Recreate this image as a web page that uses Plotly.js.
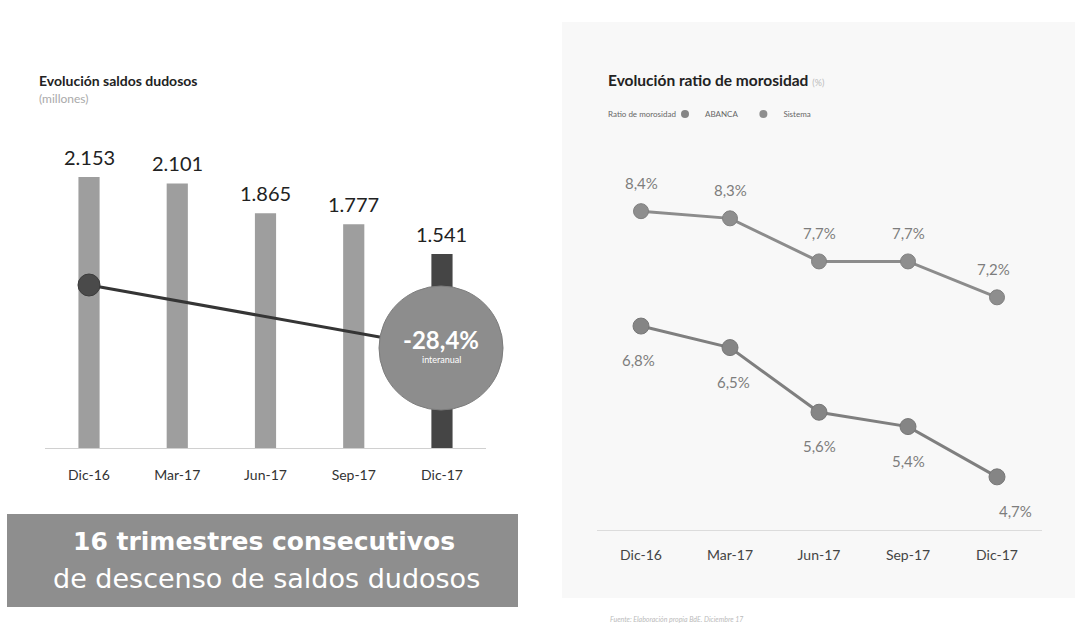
<!DOCTYPE html>
<html>
<head>
<meta charset="utf-8">
<script src="https://cdn.plot.ly/plotly-3.0.1.min.js"></script>
<style>
  html, body { margin: 0; padding: 0; background: #ffffff; }
  #chart { width: 1075px; height: 634px; }
</style>
</head>
<body>
<div id="chart"></div>
<script>
// ---- Data ----
const periods = ['Dic-16', 'Mar-17', 'Jun-17', 'Sep-17', 'Dic-17'];
const saldosDudosos = [2153, 2101, 1865, 1777, 1541];   // millones
const variacionInteranual = '-28,4%';
const ratioSistema = [8.4, 8.3, 7.7, 7.7, 7.2];         // %
const ratioAbanca = [6.8, 6.5, 5.6, 5.4, 4.7];          // %

// ---- Helpers ----
const W = 1075, H = 634;
const PX = p => p / W;
const PY = p => 1 - p / H;
const FONT = 'Lato, "Open Sans", "DejaVu Sans", sans-serif';
const BOXFONT = '"DejaVu Sans", "Open Sans", sans-serif';
const fmtThousands = v => String(v).replace(/\B(?=(\d{3})+(?!\d))/g, '.');
const fmtPct = v => v.toFixed(1).replace('.', ',') + '%';

// ---- Traces ----
const barColors = saldosDudosos.map((v, i) => i === saldosDudosos.length - 1 ? '#454545' : '#9e9e9e');
const bars = {
  type: 'bar', x: periods, y: saldosDudosos, xaxis: 'x', yaxis: 'y',
  marker: { color: barColors, line: { width: 0 } },
  showlegend: false, hoverinfo: 'x+y'
};

const sistema = {
  type: 'scatter', mode: 'lines+markers', name: 'Sistema',
  x: periods, y: ratioSistema, xaxis: 'x2', yaxis: 'y2',
  line: { color: '#8c8c8c', width: 3 },
  marker: { color: '#8e8e8e', size: 15, line: { color: '#808080', width: 1 } },
  showlegend: false
};
const abanca = {
  type: 'scatter', mode: 'lines+markers', name: 'ABANCA',
  x: periods, y: ratioAbanca, xaxis: 'x2', yaxis: 'y2',
  line: { color: '#7f7f7f', width: 3 },
  marker: { color: '#858585', size: 16, line: { color: '#777777', width: 1 } },
  showlegend: false
};
// legend entries (dots only)
const legAbanca = { type: 'scatter', mode: 'markers', name: 'ABANCA', x: [null], y: [null],
  xaxis: 'x2', yaxis: 'y2', marker: { color: '#858585', size: 8 }, showlegend: true, hoverinfo: 'skip' };
const legSistema = { type: 'scatter', mode: 'markers', name: 'Sistema', x: [null], y: [null],
  xaxis: 'x2', yaxis: 'y2', marker: { color: '#8e8e8e', size: 8 }, showlegend: true, hoverinfo: 'skip' };

// ---- Annotations ----
const annotations = [];
// Left value labels
saldosDudosos.forEach((v, i) => {
  annotations.push({
    xref: 'x', yref: 'y', x: periods[i], y: v, text: fmtThousands(v),
    showarrow: false, yanchor: 'bottom', yshift: 6,
    font: { family: FONT, size: 20, color: '#222222' }
  });
});
// Right labels
const upperXShift = [0, 0, 0, 0, -4];
const lowerXShift = [-3, 3, 0, 0, 18];
ratioSistema.forEach((v, i) => {
  annotations.push({
    xref: 'x2', yref: 'y2', x: periods[i], y: v, text: fmtPct(v),
    showarrow: false, yshift: 28, xshift: upperXShift[i],
    font: { family: FONT, size: 15, color: '#7d7d7d' }
  });
});
ratioAbanca.forEach((v, i) => {
  annotations.push({
    xref: 'x2', yref: 'y2', x: periods[i], y: v, text: fmtPct(v),
    showarrow: false, yshift: -34, xshift: lowerXShift[i],
    font: { family: FONT, size: 15, color: '#7d7d7d' }
  });
});
// Titles
annotations.push(
  { xref: 'paper', yref: 'paper', x: PX(37), y: PY(80), xanchor: 'left', yanchor: 'middle', showarrow: false,
    text: '<b>Evolución saldos dudosos</b>', font: { family: FONT, size: 14, color: '#222222' } },
  { xref: 'paper', yref: 'paper', x: PX(37), y: PY(98), xanchor: 'left', yanchor: 'middle', showarrow: false,
    text: '(millones)', font: { family: FONT, size: 12, color: '#aaaaaa' } },
  { xref: 'paper', yref: 'paper', x: PX(606), y: PY(80), xanchor: 'left', yanchor: 'middle', showarrow: false,
    text: '<b>Evolución ratio de morosidad</b> <span style="color:#bbbbbb;font-size:9px">(%)</span>',
    font: { family: FONT, size: 15.5, color: '#222222' } },
  { xref: 'paper', yref: 'paper', x: PX(606), y: PY(114), xanchor: 'left', yanchor: 'middle', showarrow: false,
    text: 'Ratio de morosidad', font: { family: FONT, size: 8, color: '#666666' } },
  // circle texts
  { xref: 'paper', yref: 'paper', x: PX(441), y: PY(339), xanchor: 'center', yanchor: 'middle', showarrow: false,
    text: '<b>' + variacionInteranual + '</b>', font: { family: FONT, size: 24, color: '#ffffff' } },
  { xref: 'paper', yref: 'paper', x: PX(441), y: PY(359), xanchor: 'center', yanchor: 'middle', showarrow: false,
    text: 'interanual', font: { family: FONT, size: 9, color: '#ffffff' } },
  // bottom box texts
  { xref: 'paper', yref: 'paper', x: PX(264), y: PY(541), xanchor: 'center', yanchor: 'middle', showarrow: false,
    text: '<b>16 trimestres consecutivos</b>', font: { family: BOXFONT, size: 25, color: '#ffffff' } },
  { xref: 'paper', yref: 'paper', x: PX(266), y: PY(578), xanchor: 'center', yanchor: 'middle', showarrow: false,
    text: 'de descenso de saldos dudosos', font: { family: BOXFONT, size: 27, color: '#ffffff' } },
  // footnote
  { xref: 'paper', yref: 'paper', x: PX(608), y: PY(619), xanchor: 'left', yanchor: 'middle', showarrow: false,
    text: '<i>Fuente: Elaboración propia BdE. Diciembre 17</i>', font: { family: FONT, size: 7, color: '#bbbbbb' } }
);

// ---- Shapes (decoration) ----
const shapes = [
  // right panel background
  { type: 'rect', xref: 'paper', yref: 'paper', x0: PX(562), x1: PX(1075), y0: PY(598), y1: PY(22),
    fillcolor: '#f8f8f8', line: { width: 0 }, layer: 'below' },
  // trend line
  { type: 'line', xref: 'paper', yref: 'paper', x0: PX(89), y0: PY(285), x1: PX(441), y1: PY(348),
    line: { color: '#353535', width: 3 }, layer: 'above' },
  // small start circle
  { type: 'circle', xref: 'paper', yref: 'paper', x0: PX(78), x1: PX(100), y0: PY(296), y1: PY(274),
    fillcolor: '#4a4a4a', line: { color: '#3c3c3c', width: 1 }, layer: 'above' },
  // big circle
  { type: 'circle', xref: 'paper', yref: 'paper', x0: PX(379), x1: PX(503), y0: PY(410), y1: PY(286),
    fillcolor: '#8d8d8d', line: { color: '#7c7c7c', width: 1 }, layer: 'above' },
  // bottom box
  { type: 'rect', xref: 'paper', yref: 'paper', x0: PX(7), x1: PX(518), y0: PY(607), y1: PY(514),
    fillcolor: '#8e8e8e', line: { width: 0 }, layer: 'above' }
];

// ---- Layout ----
const layout = {
  width: W, height: H,
  margin: { l: 0, r: 0, t: 0, b: 0 },
  paper_bgcolor: '#ffffff', plot_bgcolor: 'rgba(0,0,0,0)',
  font: { family: FONT },
  bargap: 0.76,
  xaxis: {
    domain: [PX(44.9), PX(486.1)], type: 'category', range: [-0.5, 4.5],
    showline: true, linecolor: '#d0d0d0', linewidth: 1,
    showgrid: false, zeroline: false, ticks: '', ticklabelstandoff: 14,
    tickfont: { family: FONT, size: 14, color: '#333333' }, fixedrange: true
  },
  yaxis: {
    domain: [PY(448), PY(140)], range: [0, 2446],
    visible: false, showgrid: false, zeroline: false, fixedrange: true
  },
  xaxis2: {
    domain: [PX(596.5), PX(1041.5)], type: 'category', anchor: 'y2', range: [-0.5, 4.5],
    showline: true, linecolor: '#dcdcdc', linewidth: 1,
    showgrid: false, zeroline: false, ticks: '', ticklabelstandoff: 12,
    tickfont: { family: FONT, size: 14, color: '#444444' }, fixedrange: true
  },
  yaxis2: {
    domain: [PY(530), PY(180)], range: [3.96, 8.834], anchor: 'x2',
    visible: false, showgrid: false, zeroline: false, fixedrange: true
  },
  showlegend: true,
  legend: {
    orientation: 'h', x: PX(665), y: PY(114), xanchor: 'left', yanchor: 'middle',
    bgcolor: 'rgba(0,0,0,0)', itemwidth: 30, tracegroupgap: 0,
    font: { family: FONT, size: 8, color: '#666666' }
  },
  annotations: annotations,
  shapes: shapes
};

Plotly.newPlot('chart', [bars, sistema, abanca, legAbanca, legSistema], layout,
  { displayModeBar: false, staticPlot: true });
</script>
</body>
</html>
